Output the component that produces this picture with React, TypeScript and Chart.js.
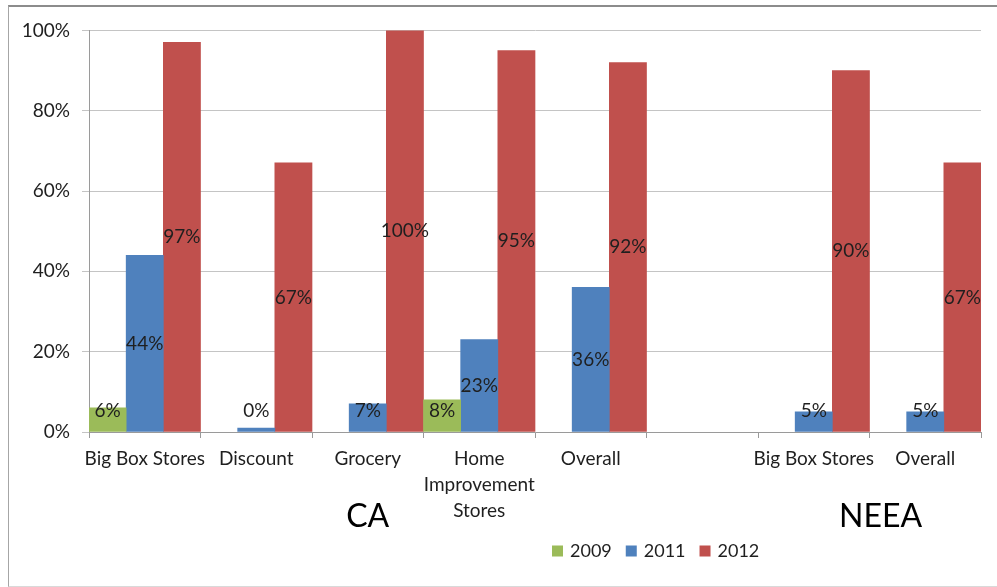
import React, { useEffect, useRef } from "react";
import { Chart, registerables } from "chart.js";

Chart.register(...registerables);

const categories: string[][] = [
  ["Big Box Stores"],
  ["Discount"],
  ["Grocery"],
  ["Home", "Improvement", "Stores"],
  ["Overall"],
  [""],
  ["Big Box Stores"],
  ["Overall"],
];
const seriesNames = ["2009", "2011", "2012"];
const seriesColors = ["#9BBB59", "#4F81BD", "#C0504D"];
const values2009 = [6, null, null, 8, null, null, null, null];
const values2011 = [44, 1, 7, 23, 36, null, 5, 5];
const labels2011 = ["44%", "0%", "7%", "23%", "36%", "", "5%", "5%"];
const values2012 = [97, 67, 100, 95, 92, null, 90, 67];
const yTicks = [0, 20, 40, 60, 80, 100];
const groupNames = ["CA", "NEEA"];
const groupCenters = [2, 6.6];

const FONT = "Lato";
const TEXT = "#1f1f1f";

const dataLabelPlugin = {
  id: "dataLabels",
  afterDatasetsDraw(chart: any) {
    const ctx = chart.ctx;
    const y0 = chart.scales.y.getPixelForValue(0);
    ctx.save();
    ctx.font = `19px ${FONT}`;
    ctx.fillStyle = TEXT;
    ctx.textAlign = "center";
    ctx.textBaseline = "middle";
    chart.data.datasets.forEach((ds: any, di: number) => {
      const meta = chart.getDatasetMeta(di);
      meta.data.forEach((bar: any, i: number) => {
        const v = ds.data[i];
        if (v == null) return;
        const text = ds.labelTexts ? ds.labelTexts[i] : Math.round(v) + "%";
        const cy = Math.min((bar.y + y0) / 2, y0 - 21);
        ctx.fillText(text, bar.x, cy);
      });
    });
    ctx.restore();
  },
};

const extrasPlugin = {
  id: "extras",
  afterDraw(chart: any) {
    const ctx = chart.ctx;
    const x = chart.scales.x;
    const area = chart.chartArea;
    ctx.save();
    // group labels
    ctx.font = `32px ${FONT}`;
    ctx.fillStyle = "#000";
    ctx.textAlign = "center";
    ctx.textBaseline = "middle";
    groupNames.forEach((g, i) => {
      ctx.fillText(g, x.getPixelForValue(groupCenters[i]), area.bottom + 85);
    });
    // legend
    ctx.font = `18px ${FONT}`;
    ctx.textAlign = "left";
    let lx = area.left + 463;
    const ly = area.bottom + 119;
    seriesNames.forEach((n, i) => {
      ctx.fillStyle = seriesColors[i];
      ctx.fillRect(lx, ly - 5.5, 11, 11);
      lx += 18;
      ctx.fillStyle = TEXT;
      ctx.fillText(n, lx, ly);
      lx += ctx.measureText(n).width + 14;
    });
    ctx.restore();
  },
};

export default function App() {
  const ref = useRef<HTMLCanvasElement>(null);
  useEffect(() => {
    if (!ref.current) return;
    const chart = new Chart(ref.current, {
      type: "bar",
      data: {
        labels: categories,
        datasets: [
          { label: seriesNames[0], data: values2009, backgroundColor: seriesColors[0] },
          { label: seriesNames[1], data: values2011, backgroundColor: seriesColors[1], labelTexts: labels2011 } as any,
          { label: seriesNames[2], data: values2012, backgroundColor: seriesColors[2] },
        ],
      },
      options: {
        responsive: false,
        animation: false,
        devicePixelRatio: 1,
        layout: { padding: { left: 0, right: 16, top: 23, bottom: 0 } },
        datasets: { bar: { categoryPercentage: 1, barPercentage: 1, skipNull: false } },
        plugins: { legend: { display: false }, tooltip: { enabled: false }, title: { display: false } },
        scales: {
          x: {
            offset: true,
            grid: { offset: true, drawOnChartArea: false, tickLength: 6, color: "#9a9a9a" },
            border: { color: "#9a9a9a" },
            ticks: {
              font: { family: FONT, size: 19, lineHeight: 1.37 },
              color: TEXT,
              padding: 8,
              maxRotation: 0,
              autoSkip: false,
            },
            afterFit(scale: any) {
              scale.height = 154;
            },
          },
          y: {
            min: 0,
            max: 100,
            grid: { color: "#c4c4c4", tickLength: 7 },
            border: { color: "#9a9a9a" },
            ticks: {
              font: { family: FONT, size: 19 },
              color: TEXT,
              padding: 12,
              callback: (v: any) => v + "%",
            },
            afterBuildTicks(scale: any) {
              scale.ticks = yTicks.map((v) => ({ value: v }));
            },
            afterFit(scale: any) {
              scale.width = 80;
            },
          },
        },
      },
      plugins: [dataLabelPlugin, extrasPlugin],
    });
    return () => chart.destroy();
  }, []);
  return (
    <div
      style={{
        position: "absolute",
        left: 8,
        top: 5,
        width: 989,
        height: 582,
        boxSizing: "border-box",
        borderTop: "2px solid #8c8c8c",
        borderLeft: "1px solid #a6a6a6",
        borderBottom: "1px solid #d9d9d9",
        background: "#fff",
      }}
    >
      <canvas ref={ref} width={988} height={579} style={{ display: "block" }} />
    </div>
  );
}
